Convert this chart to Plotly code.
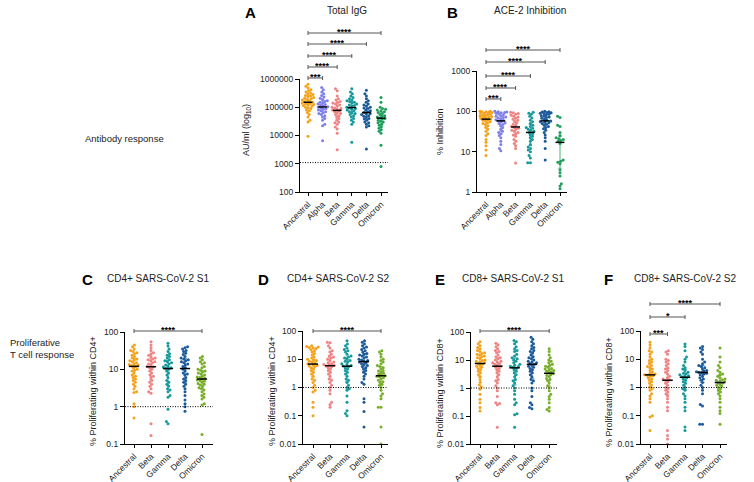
import numpy as np
import plotly.graph_objects as go

W, H = 754, 482

# === 1. Data ===
variants_ab = ["Ancestral", "Alpha", "Beta", "Gamma", "Delta", "Omicron"]
variants_t = ["Ancestral", "Beta", "Gamma", "Delta", "Omicron"]

# A - Total IgG (AU/ml)
igg_ancestral = [650000, 550000, 480000, 420000, 380000, 350000, 320000, 300000, 280000, 260000,
                 250000, 240000, 220000, 210000, 200000, 190000, 180000, 170000, 160000, 150000,
                 145000, 140000, 135000, 130000, 125000, 120000, 115000, 110000, 100000, 95000,
                 90000, 80000, 75000, 65000, 55000, 45000, 35000, 30000, 9500]
igg_alpha = [500000, 420000, 350000, 300000, 260000, 230000, 210000, 190000, 170000, 160000,
             150000, 140000, 130000, 125000, 120000, 110000, 105000, 100000, 95000, 90000,
             85000, 80000, 75000, 70000, 65000, 60000, 55000, 50000, 45000, 40000,
             35000, 25000, 22000, 6500]
igg_beta = [450000, 380000, 250000, 200000, 180000, 160000, 150000, 140000, 130000, 120000,
            110000, 100000, 95000, 90000, 85000, 80000, 75000, 70000, 65000, 60000,
            55000, 50000, 45000, 40000, 35000, 30000, 28000, 25000, 20000, 17000, 12000, 3100]
igg_gamma = [450000, 350000, 300000, 250000, 220000, 200000, 180000, 170000, 160000, 150000,
             140000, 130000, 120000, 115000, 110000, 100000, 95000, 90000, 85000, 80000,
             75000, 70000, 65000, 60000, 55000, 50000, 45000, 40000, 35000, 30000, 25000, 5800]
igg_delta = [400000, 300000, 250000, 200000, 170000, 150000, 130000, 120000, 110000, 100000,
             95000, 90000, 80000, 75000, 70000, 65000, 60000, 58000, 55000, 50000,
             48000, 45000, 40000, 38000, 35000, 30000, 28000, 25000, 22000, 20000, 3300]
igg_omicron = [220000, 150000, 100000, 90000, 85000, 80000, 75000, 70000, 65000, 60000,
               55000, 50000, 48000, 45000, 42000, 40000, 38000, 35000, 32000, 30000,
               28000, 25000, 23000, 20000, 18000, 16000, 14000, 12000, 4500, 800]

# B - ACE-2 inhibition (%)
ace_ancestral = [100, 100, 98, 97, 95, 93, 90, 88, 85, 83, 80, 78, 76, 74, 72, 70, 68, 66, 64, 62,
                 60, 58, 55, 52, 50, 47, 44, 40, 36, 32, 28, 25, 20, 17, 14, 11, 8]
ace_alpha = [100, 98, 96, 94, 92, 90, 86, 82, 78, 75, 72, 70, 68, 65, 62, 60, 58, 55, 52, 50,
             47, 44, 40, 36, 32, 30, 28, 25, 22, 18, 15, 12, 10.5]
ace_beta = [95, 92, 88, 85, 80, 76, 72, 68, 64, 60, 56, 52, 48, 45, 42, 40, 38, 36, 34, 32,
            30, 28, 26, 24, 20, 18, 16, 14, 12, 5.2]
ace_gamma = [95, 90, 85, 75, 68, 60, 55, 50, 45, 42, 40, 38, 36, 34, 32, 30, 28, 26, 24, 22,
             20, 18, 15, 13, 12, 11, 10, 8, 7, 5.3, 5.3]
ace_delta = [100, 98, 96, 94, 92, 90, 88, 85, 82, 78, 75, 72, 70, 67, 64, 60, 58, 56, 54, 52,
             50, 48, 45, 42, 40, 37, 34, 30, 26, 22, 18, 12, 6.2]
ace_omicron = [75, 70, 45, 42, 30, 25, 22, 21, 20, 19, 18, 16, 6.2, 5.8, 5.5, 5, 3.5, 3.0, 2.5,
               1.6, 1.4, 1.2]

# C - CD4+ S1 (% proliferating)
cd4s1_ancestral = [45, 40, 35, 32, 30, 28, 26, 24, 22, 20, 19, 18, 17, 16, 15, 14, 13.5, 13, 12.5, 12,
                   11, 10, 9.5, 9, 8, 7, 6.5, 6, 5.5, 5, 4.5, 4, 3.5, 3, 2.5, 2.4, 1.2, 1.0, 0.5]
cd4s1_beta = [55, 45, 38, 32, 28, 26, 24, 22, 20, 19, 18, 17, 16, 15, 14, 13, 12, 11.5, 11, 10,
              9, 8, 7, 6.5, 6, 5, 4.5, 4, 3.5, 3, 2.5, 2.3, 0.35, 0.17]
cd4s1_gamma = [50, 42, 35, 30, 26, 24, 22, 20, 18, 17, 16, 15, 14, 13, 12, 11.5, 11, 10.5, 10, 9,
               8, 7, 6, 5, 4.5, 4, 3.5, 3, 2.8, 2.5, 2, 1.8, 0.85, 0.4, 0.35]
cd4s1_delta = [40, 38, 35, 32, 30, 27, 25, 22, 20, 19, 18, 17, 16, 15, 14, 13, 12, 11, 10, 9,
               8, 7.5, 7, 6, 5.5, 5, 4.5, 4, 3.5, 3, 2.5, 2, 1.5, 1.2, 1.0, 0.75]
cd4s1_omicron = [22, 20, 18, 16, 15, 14, 12, 11, 10, 9.5, 9, 8.5, 8, 7.5, 7, 6.5, 6.2, 6, 5.8, 5.5,
                 5.2, 5, 4.8, 4.5, 4.2, 4, 3.8, 3.5, 3.2, 3, 2.8, 2.5, 2.2, 2, 1.8, 1.6, 1.2, 1.1, 0.18]

# D - CD4+ S2
cd4s2_ancestral = [30, 28, 27, 26, 25, 24, 22, 20, 18, 16, 14, 12, 11, 10, 9.5, 9, 8.5, 8, 7.5, 7,
                   6.5, 6, 5.8, 5.5, 5, 4.5, 4, 3.5, 3, 2.5, 2, 1.8, 1.5, 1.2, 1.0, 0.8, 0.7, 0.3, 0.2, 0.1]
cd4s2_beta = [40, 38, 30, 25, 20, 18, 15, 13, 12, 11, 10, 9, 8, 7.5, 7, 6.5, 6.2, 6, 5.8, 5.5,
              5, 4.5, 4, 3.5, 3, 2.5, 2, 1.8, 1.5, 1.2, 1.0, 0.8, 0.6, 0.3, 0.25, 0.2]
cd4s2_gamma = [45, 35, 30, 25, 22, 20, 18, 15, 13, 12, 11, 10, 9, 8.5, 8, 7, 6.5, 6, 5.8, 5.5,
               5, 4.5, 4, 3.5, 3, 2.5, 2, 1.8, 1.5, 1.2, 1.0, 0.9, 0.8, 0.5, 0.3, 0.15, 0.12, 0.1]
cd4s2_delta = [45, 40, 35, 30, 27, 25, 22, 20, 18, 16, 15, 14, 13, 12, 11, 10, 9.5, 9, 8.5, 8,
               7.5, 7, 6.5, 6, 5.5, 5, 4.5, 4, 3.5, 3, 2.5, 2, 1.5, 1.3, 0.4, 0.3, 0.14, 0.04]
cd4s2_omicron = [20, 18, 15, 12, 10, 9, 8, 7, 6, 5.5, 5, 4.5, 4, 3.8, 3.5, 3.2, 3.0, 2.8, 2.6, 2.5,
                 2.4, 2.2, 2, 1.8, 1.6, 1.5, 1.3, 1.2, 1.0, 0.8, 0.6, 0.5, 0.4, 0.2, 0.2, 0.04, 0.01]

# E - CD8+ S1
cd8s1_ancestral = [45, 38, 32, 28, 25, 22, 20, 18, 17, 16, 15, 14, 13, 12, 11, 10, 9.5, 9, 8.5, 8,
                   7.5, 7, 6.5, 6, 5.5, 5, 4.5, 4, 3.5, 3, 2.5, 2, 1.6, 1.3, 1.1, 0.9, 0.6, 0.4, 0.3,
                   0.2, 0.15]
cd8s1_beta = [40, 35, 30, 25, 22, 20, 18, 15, 13, 12, 11, 10, 9, 8.5, 8, 7.5, 7, 6.5, 6, 5.5,
              5, 4.5, 4, 3.5, 3, 2.5, 2, 1.8, 1.5, 1.2, 1.0, 0.8, 0.5, 0.3, 0.28, 0.25, 0.04]
cd8s1_gamma = [50, 45, 38, 30, 25, 22, 20, 16, 14, 12, 11, 10, 9, 8, 7, 6.5, 6, 5.8, 5.5, 5,
               4.5, 4, 3.5, 3, 2.5, 2, 1.8, 1.5, 1.2, 1.0, 0.8, 0.6, 0.4, 0.3, 0.25, 0.12, 0.11, 0.04]
cd8s1_delta = [65, 55, 45, 38, 32, 28, 25, 22, 20, 18, 15, 13, 12, 11, 10, 9, 8.5, 8, 7.5, 7,
               6.5, 6, 5.5, 5, 4.5, 4, 3.5, 3, 2.5, 2, 1.8, 1.5, 1.0, 0.8, 0.5, 0.3, 0.25, 0.2, 0.18]
cd8s1_omicron = [25, 20, 15, 12, 10, 9, 8, 7, 6.5, 6, 5.5, 5, 4.8, 4.5, 4.2, 4, 3.8, 3.5, 3.2, 3,
                 2.8, 2.5, 2.2, 2, 1.8, 1.5, 1.2, 1.0, 0.8, 0.6, 0.5, 0.4, 0.3, 0.2, 0.17, 0.15]

# F - CD8+ S2
cd8s2_ancestral = [40, 32, 25, 20, 18, 15, 12, 10, 9, 8, 7, 6, 5.5, 5, 4.5, 4, 3.5, 3.2, 3, 2.8,
                   2.7, 2.6, 2.5, 2.2, 2, 1.8, 1.6, 1.4, 1.2, 1.0, 0.9, 0.8, 0.6, 0.5, 0.4, 0.3,
                   0.1, 0.09, 0.03]
cd8s2_beta = [20, 18, 15, 10, 9, 8, 7, 6, 5, 4.5, 4, 3.5, 3, 2.5, 2.2, 2, 1.9, 1.8, 1.6, 1.4,
              1.2, 1.0, 0.9, 0.8, 0.7, 0.6, 0.5, 0.4, 0.3, 0.2, 0.15, 0.03, 0.02, 0.015, 0.01]
cd8s2_gamma = [35, 28, 20, 12, 10, 8, 6, 5, 4.5, 4, 3.5, 3.2, 3, 2.8, 2.6, 2.5, 2.4, 2.2, 2, 1.8,
               1.6, 1.4, 1.2, 1.0, 0.9, 0.8, 0.6, 0.5, 0.4, 0.3, 0.2, 0.15, 0.04, 0.03]
cd8s2_delta = [28, 25, 22, 18, 15, 10, 8, 7, 6, 5.5, 5, 4.5, 4, 3.8, 3.6, 3.5, 3.4, 3.2, 3, 2.8,
               2.5, 2.2, 2, 1.8, 1.5, 1.2, 1.0, 0.8, 0.6, 0.25, 0.22, 0.05, 0.05]
cd8s2_omicron = [25, 12, 8, 6, 5, 4, 3.5, 3, 2.8, 2.5, 2.2, 2, 1.9, 1.8, 1.7, 1.6, 1.5, 1.4, 1.3, 1.2,
                 1.1, 1.0, 0.9, 0.8, 0.7, 0.6, 0.5, 0.4, 0.3, 0.2, 0.15, 0.12, 0.05]

colors_ab = ["#F5A21B", "#7F7FEA", "#F08282", "#16999A", "#1B5A9A", "#1E9E5C"]
colors_t = ["#F5A21B", "#F08282", "#16999A", "#1B5A9A", "#78AE2A"]

t_ticks = [0.01, 0.1, 1, 10, 100]
t_ticktext = ["0.01", "0.1", "1", "10", "100"]

# === 2. Panel layout (pixel positions) ===
panels = [
    dict(letter="A", title="Total IgG", ytitle="AU/ml (log<sub>10</sub>)",
         cats=variants_ab, colors=colors_ab,
         data=[igg_ancestral, igg_alpha, igg_beta, igg_gamma, igg_delta, igg_omicron],
         yrange=(2, 6), yticks=[100, 1000, 10000, 100000, 1000000],
         yticktext=["100", "1000", "10000", "100000", "1000000"], ref=1100,
         xpx=(300, 388), first=308, sp=14.6, ypx=(79, 192),
         brackets=[(1, 78, "***"), (2, 67, "****"), (3, 56, "****"), (4, 44, "****"), (5, 33, "****")],
         letter_xy=(250, 12), title_xy=(347, 10), ytitle_xy=(247, 130)),
    dict(letter="B", title="ACE-2 Inhibition", ytitle="% Inhibition",
         cats=variants_ab, colors=colors_ab,
         data=[ace_ancestral, ace_alpha, ace_beta, ace_gamma, ace_delta, ace_omicron],
         yrange=(0, 3), yticks=[1, 10, 100, 1000], yticktext=["1", "10", "100", "1000"], ref=None,
         xpx=(477, 567), first=486, sp=14.8, ypx=(71, 192),
         brackets=[(1, 99, "***"), (2, 88, "****"), (3, 76, "****"), (4, 62, "****"), (5, 50, "****")],
         letter_xy=(452, 12), title_xy=(530, 10), ytitle_xy=(440, 132)),
    dict(letter="C", title="CD4+ SARS-CoV-2 S1", ytitle="% Proliferating within CD4+",
         cats=variants_t, colors=colors_t,
         data=[cd4s1_ancestral, cd4s1_beta, cd4s1_gamma, cd4s1_delta, cd4s1_omicron],
         yrange=(-1, 2), yticks=t_ticks[1:], yticktext=t_ticktext[1:], ref=1,
         xpx=(125, 213), first=134, sp=17.0, ypx=(332, 444),
         brackets=[(4, 331, "****")],
         letter_xy=(87, 279), title_xy=(158, 278), ytitle_xy=(93, 391)),
    dict(letter="D", title="CD4+ SARS-CoV-2 S2", ytitle="% Proliferating within CD4+",
         cats=variants_t, colors=colors_t,
         data=[cd4s2_ancestral, cd4s2_beta, cd4s2_gamma, cd4s2_delta, cd4s2_omicron],
         yrange=(-2, 2), yticks=t_ticks, yticktext=t_ticktext, ref=1,
         xpx=(303, 388), first=313, sp=17.0, ypx=(331, 444),
         brackets=[(4, 331, "****")],
         letter_xy=(263, 279), title_xy=(338, 278), ytitle_xy=(272, 391)),
    dict(letter="E", title="CD8+ SARS-CoV-2 S1", ytitle="% Proliferating within CD8+",
         cats=variants_t, colors=colors_t,
         data=[cd8s1_ancestral, cd8s1_beta, cd8s1_gamma, cd8s1_delta, cd8s1_omicron],
         yrange=(-2, 2), yticks=t_ticks, yticktext=t_ticktext, ref=1,
         xpx=(471, 557), first=480, sp=17.3, ypx=(332, 444),
         brackets=[(4, 331, "****")],
         letter_xy=(440, 279), title_xy=(513, 278), ytitle_xy=(440, 393)),
    dict(letter="F", title="CD8+ SARS-CoV-2 S2", ytitle="% Proliferating within CD8+",
         cats=variants_t, colors=colors_t,
         data=[cd8s2_ancestral, cd8s2_beta, cd8s2_gamma, cd8s2_delta, cd8s2_omicron],
         yrange=(-2, 2), yticks=t_ticks, yticktext=t_ticktext, ref=1,
         xpx=(641, 727), first=650, sp=17.5, ypx=(331, 444),
         brackets=[(1, 334, "***"), (2, 317, "*"), (4, 304, "****")],
         letter_xy=(608, 279), title_xy=(685, 278), ytitle_xy=(609, 392)),
]


def px_x(p):
    return p / W


def px_y(p):
    return 1 - p / H


def swarm(vals, lo, hi, hpx, d=2.7, maxw=7.0):
    """Simple beeswarm: horizontal pixel offsets so dots don't overlap."""
    ys = (np.log10(np.asarray(vals, float)) - lo) / (hi - lo) * hpx
    offs = np.zeros(len(ys))
    placed = []
    flip = 1
    for i in np.argsort(ys):
        y = ys[i]
        near = [(ox, oy) for ox, oy in placed if abs(oy - y) < d]
        cands = [0.0]
        for ox, oy in near:
            dx = np.sqrt(d * d - (oy - y) ** 2)
            cands += [ox + dx, ox - dx]
        cands.sort(key=lambda c: (round(abs(c), 3), -c * flip))
        best = None
        for c in cands:
            if abs(c) > maxw:
                continue
            if all((c - ox) ** 2 + (y - oy) ** 2 >= d * d - 1e-6 for ox, oy in near):
                best = c
                break
        if best is None:
            grid = np.linspace(-maxw, maxw, 29)
            score = [min(((g - ox) ** 2 + (y - oy) ** 2) for ox, oy in near) for g in grid]
            best = grid[int(np.argmax(score))]
        flip = -flip
        offs[i] = best
        placed.append((best, y))
    return offs


fig = go.Figure()
font_family = "Liberation Sans, Arial, sans-serif"

for n, p in enumerate(panels, start=1):
    xa = "x" if n == 1 else f"x{n}"
    ya = "y" if n == 1 else f"y{n}"
    lo, hi = p["yrange"]
    hpx = p["ypx"][1] - p["ypx"][0]
    sp = p["sp"]
    xr = [(p["xpx"][0] - p["first"]) / sp, (p["xpx"][1] - p["first"]) / sp]

    for i, (vals, col) in enumerate(zip(p["data"], p["colors"])):
        offs = swarm(vals, lo, hi, hpx, maxw=0.4 * sp)
        fig.add_trace(go.Scatter(
            x=i + offs / sp, y=vals, mode="markers",
            marker=dict(size=3, color=col, line=dict(width=0)),
            xaxis=xa, yaxis=ya, hoverinfo="skip"))
        q1, med, q3 = np.percentile(vals, [25, 50, 75])
        c = 0.12
        fig.add_trace(go.Scatter(
            x=[i, i, None, i - c, i + c, None, i - c, i + c],
            y=[q1, q3, None, q1, q1, None, q3, q3],
            mode="lines", line=dict(color=col, width=0.8),
            xaxis=xa, yaxis=ya, hoverinfo="skip"))
        w = 0.3
        fig.add_trace(go.Scatter(
            x=[i - w, i + w], y=[med, med], mode="lines",
            line=dict(color="black", width=1.5),
            xaxis=xa, yaxis=ya, hoverinfo="skip"))

    if p["ref"] is not None:
        fig.add_trace(go.Scatter(
            x=xr, y=[p["ref"], p["ref"]], mode="lines",
            line=dict(color="black", width=1, dash="1px,1.5px"),
            xaxis=xa, yaxis=ya, hoverinfo="skip"))

    axis_common = dict(showline=True, linecolor="black", linewidth=1.3, ticks="outside",
                       tickcolor="black", tickwidth=1, showgrid=False, zeroline=False,
                       automargin=False,
                       tickfont=dict(size=8.5, color="#222", family=font_family))
    fig.update_layout({
        ("xaxis" if n == 1 else f"xaxis{n}"): dict(
            axis_common, domain=[px_x(p["xpx"][0]), px_x(p["xpx"][1])], range=xr,
            tickvals=list(range(len(p["cats"]))), ticktext=p["cats"], tickangle=-45,
            ticklen=3, anchor=ya),
        ("yaxis" if n == 1 else f"yaxis{n}"): dict(
            axis_common, type="log", range=[lo, hi],
            domain=[px_y(p["ypx"][1]), px_y(p["ypx"][0])],
            tickvals=p["yticks"], ticktext=p["yticktext"], ticklen=4, anchor=xa),
    })

    # significance brackets
    for j, ypx, stars in p["brackets"]:
        fig.add_shape(type="line", xref=xa, yref="paper", x0=0, x1=j,
                      y0=px_y(ypx), y1=px_y(ypx), line=dict(color="#555", width=1))
        for xx in (0, j):
            fig.add_shape(type="line", xref=xa, yref="paper", x0=xx, x1=xx,
                          y0=px_y(ypx - 2), y1=px_y(ypx + 2), line=dict(color="#555", width=1))
        fig.add_annotation(x=j / 2, xref=xa, y=px_y(ypx - 1), yref="paper",
                           text=f"<b>{stars}</b>", showarrow=False, yanchor="middle",
                           font=dict(size=9, color="black", family=font_family))

    lx, ly = p["letter_xy"]
    fig.add_annotation(x=px_x(lx), y=px_y(ly), xref="paper", yref="paper", text=f"<b>{p['letter']}</b>",
                       showarrow=False, xanchor="center", yanchor="middle",
                       font=dict(size=15, color="black", family=font_family))
    tx, ty = p["title_xy"]
    fig.add_annotation(x=px_x(tx), y=px_y(ty), xref="paper", yref="paper", text=p["title"],
                       showarrow=False, xanchor="center", yanchor="middle",
                       font=dict(size=10, color="#222", family=font_family))
    yx, yy = p["ytitle_xy"]
    fig.add_annotation(x=px_x(yx), y=px_y(yy), xref="paper", yref="paper", text=p["ytitle"],
                       showarrow=False, textangle=-90, xanchor="center", yanchor="middle",
                       font=dict(size=9, color="#222", family=font_family))

# row labels
fig.add_annotation(x=px_x(83), y=px_y(138), xref="paper", yref="paper", text="Antibody response",
                   showarrow=False, xanchor="left", yanchor="middle",
                   font=dict(size=9.5, color="#222", family=font_family))
fig.add_annotation(x=px_x(8), y=px_y(348), xref="paper", yref="paper",
                   text="Proliferative<br>T cell response", align="left",
                   showarrow=False, xanchor="left", yanchor="middle",
                   font=dict(size=9.5, color="#222", family=font_family))

fig.update_layout(
    width=W, height=H, margin=dict(l=0, r=0, t=0, b=0, autoexpand=False),
    paper_bgcolor="white", plot_bgcolor="white", showlegend=False,
    font=dict(family=font_family),
)

# page body has a default 8px margin; remove it so the figure sits at the window origin
fig.write_html("out.html", config={"displayModeBar": False},
               post_script="document.body.style.margin='0px';")
